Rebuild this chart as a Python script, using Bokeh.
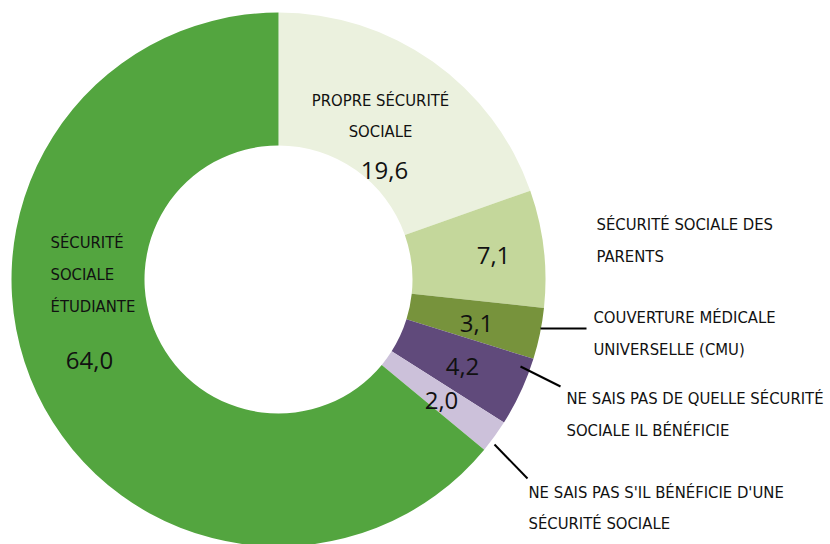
import math
from bokeh.plotting import figure
from bokeh.models import Range1d, ColumnDataSource
from bokeh.core.properties import value
from bokeh.embed import file_html
from bokeh.resources import INLINE

categories = ["Propre sécurité sociale", "Sécurité sociale des parents",
              "Couverture médicale universelle (CMU)",
              "Ne sais pas de quelle sécurité sociale il bénéficie",
              "Ne sais pas s'il bénéficie d'une sécurité sociale",
              "Sécurité sociale étudiante"]
values = [19.6, 7.1, 3.1, 4.2, 2.0, 64.0]
value_labels = ["19,6", "7,1", "3,1", "4,2", "2,0", "64,0"]
colors = ["#EBF1DE", "#C4D79B", "#77933C", "#604A7B", "#CCC1DA", "#53A53F"]

W, H = 830, 544
p = figure(width=W, height=H, output_backend="svg", toolbar_location=None,
           x_range=Range1d(0, W), y_range=Range1d(0, H), min_border=0)
p.axis.visible = False
p.grid.visible = False
p.outline_line_color = None
p.background_fill_color = "white"

def Y(y_img):
    return H - y_img
def X(x_img):
    return x_img

cx, cy = X(278), Y(279)
total = sum(values)
starts, ends = [], []
cum = 0.0
for v in values:
    starts.append(math.pi / 2 - cum / total * 2 * math.pi)
    cum += v
    ends.append(math.pi / 2 - cum / total * 2 * math.pi)

src = ColumnDataSource(dict(start=starts, end=ends, color=colors, cat=categories))
p.annular_wedge(x=cx, y=cy, inner_radius=134, outer_radius=267,
                start_angle="start", end_angle="end", direction="clock",
                fill_color="color", line_color=None, source=src)

label_font = value("'DejaVu Sans Condensed', 'Liberation Sans Narrow', 'Roboto Condensed', 'Noto Sans', sans-serif")
num_font = value("Open Sans")

# number labels
num_x = [384, 493, 476, 462, 441, 89]
num_y = [170, 255, 323, 366, 400, 360]
p.text(x=[X(v) for v in num_x], y=[Y(v) for v in num_y], text=value_labels,
       text_font=num_font, text_font_size="24px", text_align="center",
       text_baseline="middle", text_color="#111111")

# category labels (lines)
lab_lines = [
    ("PROPRE SÉCURITÉ", 380, 100, "center"),
    ("SOCIALE", 380, 131, "center"),
    ("SÉCURITÉ", 50, 242, "left"),
    ("SOCIALE", 50, 274, "left"),
    ("ÉTUDIANTE", 50, 306, "left"),
    ("SÉCURITÉ SOCIALE DES", 596, 224, "left"),
    ("PARENTS", 596, 256, "left"),
    ("COUVERTURE MÉDICALE", 593, 317, "left"),
    ("UNIVERSELLE (CMU)", 593, 349, "left"),
    ("NE SAIS PAS DE QUELLE SÉCURITÉ", 566, 398, "left"),
    ("SOCIALE IL BÉNÉFICIE", 566, 430, "left"),
    ("NE SAIS PAS S'IL BÉNÉFICIE D'UNE", 528, 492, "left"),
    ("SÉCURITÉ SOCIALE", 528, 523, "left"),
]
for t, x, y, a in lab_lines:
    p.text(x=[X(x)], y=[Y(y)], text=[t], text_font=label_font,
           text_font_size="16.5px", text_align=a, text_baseline="middle",
           text_color="#111111")

# leader lines
p.segment(x0=[X(540), X(520), X(494)], y0=[Y(328), Y(366), Y(444)],
          x1=[X(586), X(560), X(527)], y1=[Y(328), Y(386), Y(478)],
          line_color="black", line_width=2)

open("out.html", "w").write(file_html(p, INLINE))
